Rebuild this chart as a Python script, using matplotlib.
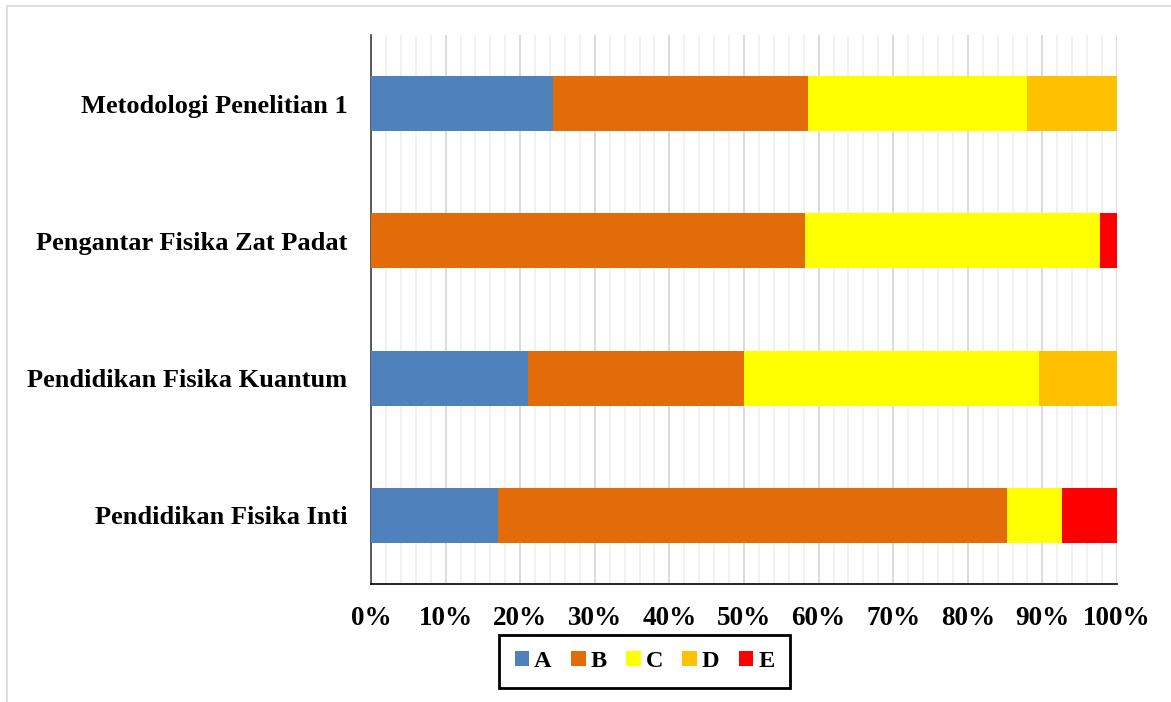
import matplotlib
matplotlib.use("Agg")
import matplotlib.pyplot as plt
import numpy as np
from matplotlib.patches import Rectangle

categories = ["Pendidikan Fisika Inti", "Pendidikan Fisika Kuantum",
              "Pengantar Fisika Zat Padat", "Metodologi Penelitian 1"]
series_names = ["A", "B", "C", "D", "E"]
A = [17.0, 21.0, 0.0, 24.4]
B = [68.3, 29.0, 58.2, 34.2]
C = [7.3, 39.5, 39.5, 29.3]
D = [0.0, 10.5, 0.0, 12.1]
E = [7.4, 0.0, 2.3, 0.0]
colors = ["#4F81BD", "#E36C0A", "#FFFF00", "#FFC000", "#FF0000"]
xticks = [0, 10, 20, 30, 40, 50, 60, 70, 80, 90, 100]

plt.rcParams['font.family'] = ['Liberation Serif', 'DejaVu Serif']
plt.rcParams['font.weight'] = 'bold'

fig = plt.figure(figsize=(11.71, 7.02), dpi=100)
W, H = 1171, 702
ax = fig.add_axes([371 / W, 1 - 584 / H, (1117 - 371) / W, (584 - 35) / H])

# outer chart border
fig.patches.append(Rectangle((7 / W, -0.1), 1.2, 1 - 6 / H + 0.1, transform=fig.transFigure,
                             fill=False, edgecolor="#D9D9D9", linewidth=1.2, zorder=0))

data = [A, B, C, D, E]
y = np.arange(len(categories))
left = np.zeros(len(categories))
for name, vals, col in zip(series_names, data, colors):
    ax.barh(y, vals, left=left, height=0.4, color=col, label=name, zorder=3)
    left += np.array(vals)

ax.set_xlim(0, 100)
ax.set_ylim(-0.5, len(categories) - 0.5)
ax.set_yticks(y)
ax.set_yticklabels(categories, fontsize=19, fontweight='bold')
ax.set_xticks(xticks)
ax.set_xticklabels([f"{v}%" for v in xticks], fontsize=19.5, fontweight='bold')
ax.set_xticks(np.arange(0, 101, 2), minor=True)
ax.tick_params(axis='both', length=0, which='both')
ax.tick_params(axis='x', pad=16)
ax.tick_params(axis='y', pad=17)
ax.grid(axis='x', which='major', color="#D9D9D9", linewidth=1.3, zorder=0)
ax.grid(axis='x', which='minor', color="#F0F0F0", linewidth=1.3, zorder=0)
ax.set_axisbelow(True)
for s in ['top', 'right']:
    ax.spines[s].set_visible(False)
ax.spines['left'].set_color('#404040')
ax.spines['left'].set_linewidth(1.2)
ax.spines['bottom'].set_color('black')
ax.spines['bottom'].set_linewidth(1.2)

leg = fig.legend(loc='center', bbox_to_anchor=(644.5 / W, 1 - 661.5 / H), ncol=5,
                 frameon=True, fancybox=False, edgecolor='black', framealpha=1,
                 prop={'family': 'Liberation Serif', 'weight': 'bold', 'size': 17.5},
                 handlelength=0.6, handleheight=0.6, handletextpad=0.2, columnspacing=0.8,
                 borderpad=0.65, borderaxespad=0)
leg.get_frame().set_linewidth(2)

fig.savefig("out.png", dpi=100)
